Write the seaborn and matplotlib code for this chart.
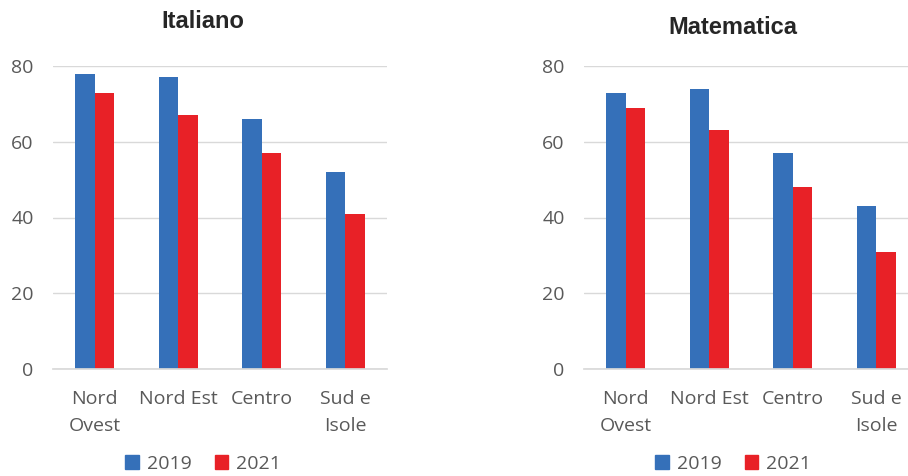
import pandas as pd
import matplotlib.pyplot as plt
import seaborn as sns
from matplotlib.patches import Patch

# data
aree = ['Nord\nOvest', 'Nord Est', 'Centro', 'Sud e\nIsole']
anni = ['2019', '2021']
italiano_2019 = [78, 77, 66, 52]
italiano_2021 = [73, 67, 57, 41]
matematica_2019 = [73, 74, 57, 43]
matematica_2021 = [69, 63, 48, 31]

blu = '#3570B9'
rosso = '#E82127'
grigio = '#595959'


def long_table(v2019, v2021):
    return pd.DataFrame({
        'area': aree * 2,
        'anno': ['2019'] * 4 + ['2021'] * 4,
        'valore': v2019 + v2021,
    })


sns.set_theme(style='white')
plt.rcParams['font.family'] = ['Open Sans', 'DejaVu Sans']

fig = plt.figure(figsize=(9.08, 4.76), dpi=100)
ax1 = fig.add_axes([53 / 908, 1 - 369 / 476, 334 / 908, 303 / 476])
ax2 = fig.add_axes([584 / 908, 1 - 369 / 476, 334 / 908, 303 / 476])

panels = [
    (ax1, long_table(italiano_2019, italiano_2021), 'Italiano', 203, 22),
    (ax2, long_table(matematica_2019, matematica_2021), 'Matematica', 733, 27),
]

for ax, df, titolo, tx, ty in panels:
    sns.barplot(data=df, x='area', y='valore', hue='anno', order=aree,
                hue_order=anni, palette=[blu, rosso], width=0.47, gap=0,
                saturation=1, linewidth=0, ax=ax, legend=False)
    ax.set_ylim(0, 80)
    ax.set_yticks([0, 20, 40, 60, 80])
    ax.set_xlim(-0.5, 3.5)
    ax.grid(axis='y', color='#D9D9D9', linewidth=1)
    ax.set_axisbelow(True)
    for s in ['top', 'right', 'left']:
        ax.spines[s].set_visible(False)
    ax.spines['bottom'].set_color('#D9D9D9')
    ax.set_xlabel('')
    ax.set_ylabel('')
    ax.tick_params(axis='y', length=0, pad=14, labelsize=14, labelcolor=grigio)
    ax.tick_params(axis='x', length=0, pad=15, labelsize=14, labelcolor=grigio)
    for lab in ax.get_xticklabels():
        lab.set_linespacing(1.65)
    fig.text(tx / 908, 1 - ty / 476, titolo, ha='center', va='center',
             fontsize=17, fontweight='bold', family='Liberation Sans')
    handles = [Patch(color=blu, label='2019'), Patch(color=rosso, label='2021')]
    fig.legend(handles=handles, loc='center', ncol=2, frameon=False,
               bbox_to_anchor=(tx / 908, 1 - 464 / 476), fontsize=14,
               handlelength=0.7, handleheight=0.7, handletextpad=0.4,
               columnspacing=1.2, labelcolor=grigio)

fig.savefig('out.png', dpi=100)
